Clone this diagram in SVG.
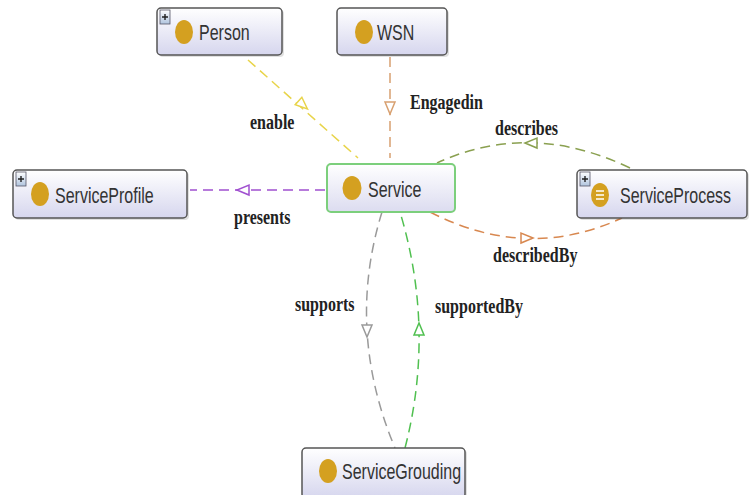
<svg xmlns="http://www.w3.org/2000/svg" width="751" height="495" viewBox="0 0 751 495">
<defs>
<linearGradient id="g" x1="0" y1="0" x2="0" y2="1">
<stop offset="0" stop-color="#ffffff"/>
<stop offset="1" stop-color="#d6d6ee"/>
</linearGradient>
<linearGradient id="gs" x1="0" y1="0" x2="0" y2="1">
<stop offset="0" stop-color="#ffffff"/>
<stop offset="1" stop-color="#dcdcf0"/>
</linearGradient>
<linearGradient id="pg" x1="0" y1="0" x2="0" y2="1">
<stop offset="0" stop-color="#ffffff"/>
<stop offset="1" stop-color="#b0c4de"/>
</linearGradient>
</defs>
<style>
.box{fill:url(#g);stroke:#555;stroke-width:1.5}
.shadow{fill:#000;opacity:0.12}
.sbox{fill:url(#gs);stroke:#7ccf7c;stroke-width:2}
.dot{fill:#d4a020}
.nt{font-family:"Liberation Sans",Arial,sans-serif;font-size:16px;fill:#333}
.plus{fill:url(#pg);stroke:#556;stroke-width:0.8}
.pl{stroke:#222;stroke-width:1.4}
.e{fill:none;stroke-width:1.5;stroke-dasharray:10 6}
.ah{fill:#fff;stroke-width:1.5}
.lb{font-family:"Liberation Serif","Times New Roman",serif;font-size:16px;font-weight:bold;fill:#222}
</style>
<g id="connectors">
<path class="e" d="M248,60 L358,158" stroke="#e8d44a"/>
<polygon class="ah" points="6,0 -6,-5 -6,5" stroke="#e8d44a" transform="translate(303,105) rotate(41.7)"/>
<path class="e" d="M390,57 L390,158" stroke="#d8a070"/>
<polygon class="ah" points="6,0 -6,-5 -6,5" stroke="#d8a070" transform="translate(390,108) rotate(90)"/>
<path class="e" d="M325,190 L190,190" stroke="#a050d0"/>
<polygon class="ah" points="6,0 -6,-5 -6,5" stroke="#a050d0" transform="translate(243,190) rotate(180)"/>
<path class="e" d="M630,168 Q530,120 437,163" stroke="#8aa050"/>
<polygon class="ah" points="6,0 -6,-5 -6,5" stroke="#8aa050" transform="translate(531,143) rotate(180)"/>
<path class="e" d="M430,212 Q527,262 622,218" stroke="#d88850"/>
<polygon class="ah" points="6,0 -6,-5 -6,5" stroke="#d88850" transform="translate(527,238)"/>
<path class="e" d="M382,212 Q345.5,330 395,448" stroke="#9a9a9a"/>
<polygon class="ah" points="6,0 -6,-5 -6,5" stroke="#9a9a9a" transform="translate(367,331) rotate(90)"/>
<path class="e" d="M405,448 Q435.5,330 400,212" stroke="#50c050"/>
<polygon class="ah" points="6,0 -6,-5 -6,5" stroke="#50c050" transform="translate(419,329) rotate(-90)"/>
<text class="lb" transform="translate(250,129) scale(1,1.3)">enable</text>
<text class="lb" transform="translate(410,109) scale(1,1.3)">Engagedin</text>
<text class="lb" transform="translate(234,224) scale(1,1.3)">presents</text>
<text class="lb" transform="translate(495,135) scale(1,1.3)">describes</text>
<text class="lb" transform="translate(493,262) scale(1,1.3)">describedBy</text>
<text class="lb" transform="translate(295,311) scale(1,1.3)">supports</text>
<text class="lb" transform="translate(435,313) scale(1,1.3)">supportedBy</text>
</g>
<g id="Person">
<rect class="shadow" x="159" y="10" width="125" height="47" rx="4"/>
<rect class="box" x="157" y="8" width="125" height="47" rx="4"/>
<rect class="plus" x="160" y="10" width="10" height="14"/>
<path class="pl" d="M162,17 H168 M165,14 V20"/>
<ellipse class="dot" cx="184" cy="32" rx="9" ry="12"/>
<text class="nt" transform="translate(199,40) scale(1,1.4)">Person</text>
</g>
<g id="WSN">
<rect class="shadow" x="339" y="10" width="110" height="47" rx="4"/>
<rect class="box" x="337" y="8" width="110" height="47" rx="4"/>
<ellipse class="dot" cx="364" cy="32" rx="9" ry="12"/>
<text class="nt" transform="translate(377,40) scale(1,1.4)">WSN</text>
</g>
<g id="ServiceProfile">
<rect class="shadow" x="15" y="172" width="174" height="48" rx="4"/>
<rect class="box" x="13" y="170" width="174" height="48" rx="4"/>
<rect class="plus" x="16" y="172" width="10" height="14"/>
<path class="pl" d="M18,179 H24 M21,176 V182"/>
<ellipse class="dot" cx="40" cy="194" rx="9" ry="12"/>
<text class="nt" transform="translate(55,202.5) scale(1,1.4)">ServiceProfile</text>
</g>
<g id="Service">
<rect class="sbox" x="327" y="164" width="128" height="48" rx="4"/>
<ellipse class="dot" cx="352" cy="188" rx="9.5" ry="12"/>
<text class="nt" transform="translate(368,196.5) scale(1,1.4)">Service</text>
</g>
<g id="ServiceProcess">
<rect class="shadow" x="579" y="172" width="170" height="48" rx="4"/>
<rect class="box" x="577" y="170" width="170" height="48" rx="4"/>
<rect class="plus" x="580" y="172" width="10" height="14"/>
<path class="pl" d="M582,179 H588 M585,176 V182"/>
<ellipse class="dot" cx="600" cy="195" rx="9" ry="12"/>
<path d="M596,191 H604 M596,195 H604 M596,199 H604" stroke="#fff" stroke-width="1.4"/>
<text class="nt" transform="translate(620,202.5) scale(1,1.4)">ServiceProcess</text>
</g>
<g id="ServiceGrouding">
<rect class="shadow" x="304" y="450" width="163" height="50" rx="4"/>
<rect class="box" x="302" y="448" width="163" height="50" rx="4"/>
<ellipse class="dot" cx="328" cy="471" rx="9" ry="12"/>
<text class="nt" transform="translate(342,479) scale(1,1.4)">ServiceGrouding</text>
</g>
</svg>
